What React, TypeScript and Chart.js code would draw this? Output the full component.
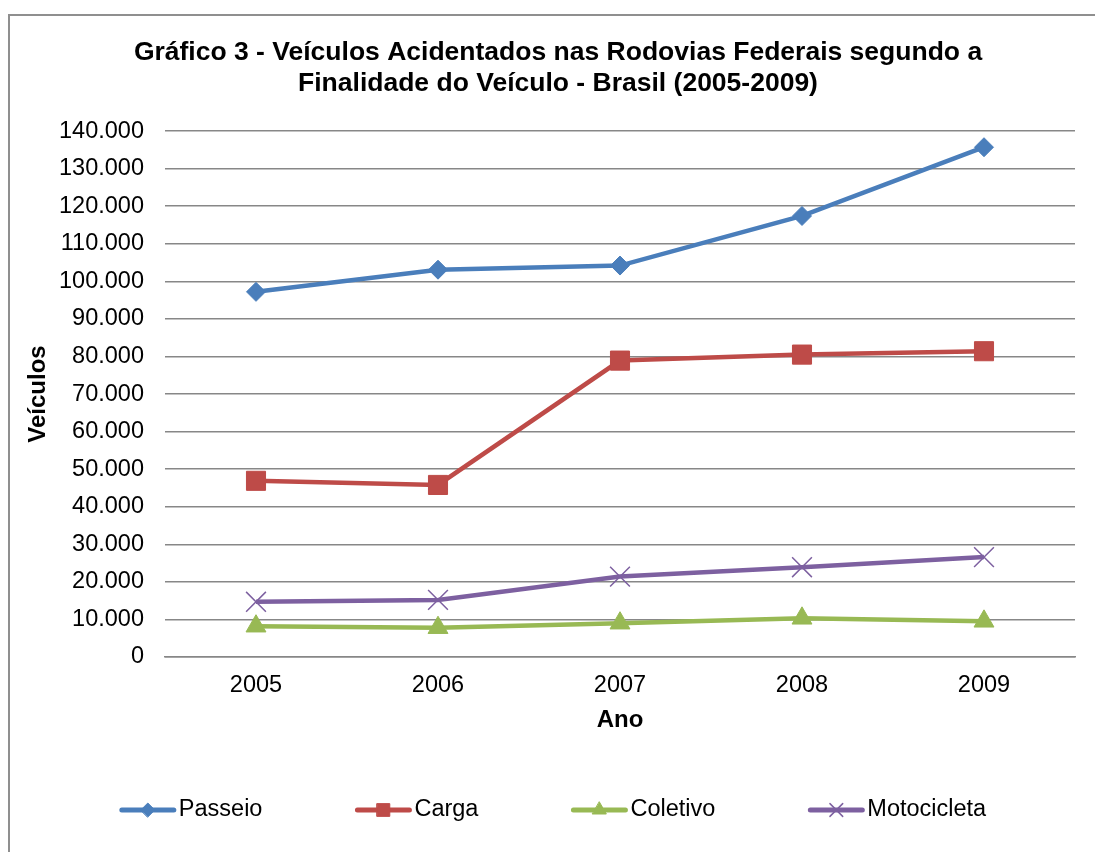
import React, { useEffect, useRef } from "react";
import { Chart, registerables } from "chart.js";
import { drawPoint } from "chart.js/helpers";

Chart.register(...registerables);

const years = ["2005", "2006", "2007", "2008", "2009"];
const passeio = [97200, 103100, 104200, 117400, 135700];
const carga = [46900, 45800, 78900, 80500, 81400];
const coletivo = [8200, 7800, 9000, 10300, 9500];
const motocicleta = [14700, 15200, 21400, 23900, 26600];

const titleLines = [
  "Gráfico 3 - Veículos Acidentados nas Rodovias Federais segundo a",
  "Finalidade do Veículo - Brasil (2005-2009)",
];
const yTitle = "Veículos";
const xTitle = "Ano";

const FONT = "'Liberation Sans', Arial, sans-serif";

const fmt = (v: number) => String(v).replace(/\B(?=(\d{3})+(?!\d))/g, ".");

const legendPlugin = {
  id: "excelLegend",
  afterDraw(chart: any) {
    const ctx = chart.ctx;
    const items = chart.data.datasets;
    const lineLen = 56;
    const gap = 3;
    const spacing = 93;
    const y = 794;
    ctx.save();
    ctx.font = `23.5px ${FONT}`;
    const widths = items.map((d: any) => lineLen + gap + ctx.measureText(d.label).width);
    const total = widths.reduce((a: number, b: number) => a + b, 0) + spacing * (items.length - 1);
    let x = chart.width / 2 - 5 - total / 2;
    items.forEach((d: any, i: number) => {
      ctx.strokeStyle = d.borderColor;
      ctx.lineWidth = 5;
      ctx.lineCap = "round";
      ctx.beginPath();
      ctx.moveTo(x + 2, y);
      ctx.lineTo(x + lineLen - 2, y);
      ctx.stroke();
      const mx = x + lineLen / 2;
      ctx.fillStyle = d.pointBackgroundColor;
      ctx.strokeStyle = d.pointBorderColor;
      ctx.lineWidth = d.legendMarkerBorder;
      drawPoint(ctx, { pointStyle: d.pointStyle, radius: d.legendRadius, borderWidth: d.legendMarkerBorder, rotation: 0 } as any, mx, y);
      ctx.fillStyle = "#000";
      ctx.textAlign = "left";
      ctx.textBaseline = "middle";
      ctx.font = `23.5px ${FONT}`;
      ctx.fillText(d.label, x + lineLen + gap, y);
      x += widths[i] + spacing;
    });
    ctx.restore();
  },
};

export default function App() {
  const ref = useRef<HTMLCanvasElement | null>(null);
  useEffect(() => {
    if (!ref.current) return;
    const chart = new Chart(ref.current, {
      type: "line",
      data: {
        labels: years,
        datasets: [
          {
            label: "Passeio",
            data: passeio,
            borderColor: "#4A7EBB",
            backgroundColor: "#4A7EBB",
            pointBackgroundColor: "#4A7EBB",
            pointBorderColor: "#4A7EBB",
            pointStyle: "rectRot",
            pointRadius: 9.5,
            pointBorderWidth: 1,
            borderWidth: 4.5,
            legendRadius: 7,
            legendMarkerBorder: 1,
          } as any,
          {
            label: "Carga",
            data: carga,
            borderColor: "#BE4B48",
            backgroundColor: "#BE4B48",
            pointBackgroundColor: "#BE4B48",
            pointBorderColor: "#BE4B48",
            pointStyle: "rect",
            pointRadius: 13.5,
            pointBorderWidth: 1,
            borderWidth: 4.5,
            legendRadius: 9,
            legendMarkerBorder: 1,
          } as any,
          {
            label: "Coletivo",
            data: coletivo,
            borderColor: "#98B954",
            backgroundColor: "#98B954",
            pointBackgroundColor: "#98B954",
            pointBorderColor: "#98B954",
            pointStyle: "triangle",
            pointRadius: 11.5,
            pointBorderWidth: 1,
            borderWidth: 4.5,
            legendRadius: 8,
            legendMarkerBorder: 1,
          } as any,
          {
            label: "Motocicleta",
            data: motocicleta,
            borderColor: "#7D60A0",
            backgroundColor: "#7D60A0",
            pointBackgroundColor: "#7D60A0",
            pointBorderColor: "#7D60A0",
            pointStyle: "crossRot",
            pointRadius: 14,
            pointBorderWidth: 1.5,
            borderWidth: 4.5,
            legendRadius: 9,
            legendMarkerBorder: 1.5,
          } as any,
        ],
      },
      options: {
        animation: false,
        responsive: false,
        maintainAspectRatio: false,
        layout: { padding: { left: 31, right: 31, top: 0, bottom: 105 } },
        plugins: {
          legend: { display: false },
          tooltip: { enabled: false },
          title: {
            display: true,
            text: titleLines,
            color: "#000",
            font: { family: FONT, size: 26.5, weight: "bold", lineHeight: 1.19 },
            padding: { top: 20.5, bottom: 31.5 },
          },
        },
        scales: {
          x: {
            offset: true,
            grid: { display: false, drawTicks: false },
            border: { display: true, color: "#878787", width: 1.5 },
            ticks: { color: "#000", font: { family: FONT, size: 23.5 }, padding: 14.5, maxRotation: 0 },
            title: {
              display: true,
              text: xTitle,
              color: "#000",
              font: { family: FONT, size: 24, weight: "bold" },
              padding: { top: 0, bottom: 12 },
            },
            afterFit: (s: any) => {
              s.height = 90;
            },
          },
          y: {
            min: 0,
            max: 140000,
            grid: { color: "#878787", lineWidth: 1.5, drawTicks: false },
            border: { display: false },
            ticks: {
              stepSize: 10000,
              color: "#000",
              font: { family: FONT, size: 23.5 },
              padding: 21,
              callback: (v: any) => fmt(Number(v)),
            },
            title: {
              display: true,
              text: yTitle,
              color: "#000",
              font: { family: FONT, size: 24, weight: "bold" },
              padding: { top: -17, bottom: 0 },
            },
            afterFit: (s: any) => {
              s.width = 124;
            },
          },
        },
      },
      plugins: [legendPlugin],
    });
    return () => chart.destroy();
  }, []);

  return (
    <div style={{ position: "fixed", left: 0, top: 0, width: 1095, height: 852, overflow: "hidden", background: "#fff" }}>
      <div
        style={{
          position: "absolute",
          left: 8,
          top: 14,
          width: 1200,
          height: 1000,
          borderLeft: "2px solid #8f8f8f",
          borderTop: "2px solid #8f8f8f",
          boxSizing: "border-box",
        }}
      />
      <canvas ref={ref} width={1096} height={836} style={{ position: "absolute", left: 10, top: 16, width: 1096, height: 836 }} />
    </div>
  );
}
